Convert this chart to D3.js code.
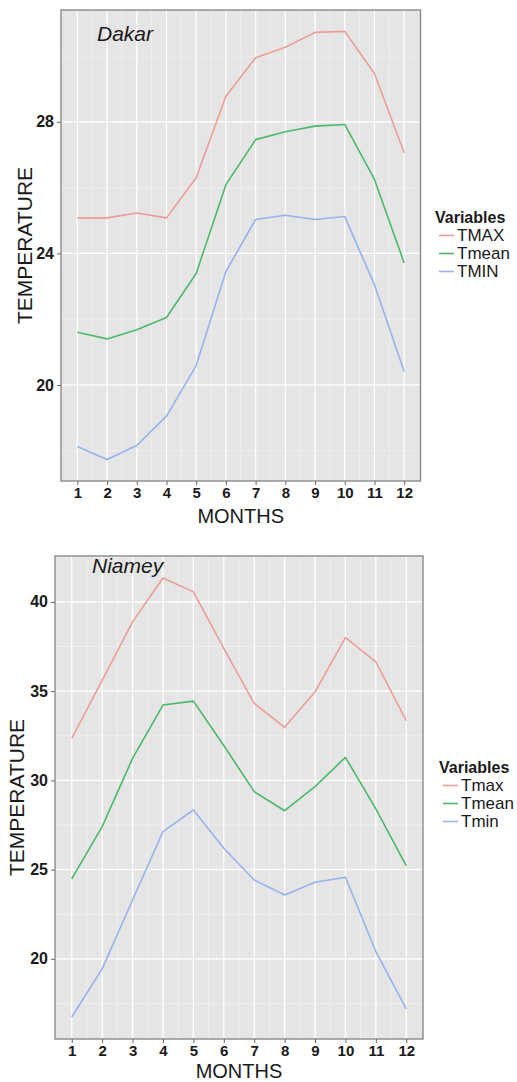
<!DOCTYPE html>
<html>
<head>
<meta charset="utf-8">
<script src="https://cdn.jsdelivr.net/npm/d3@7"></script>
<style>
  html, body { margin: 0; padding: 0; background: #ffffff; }
  svg { display: block; }
  text { font-family: "Liberation Sans", Arial, Helvetica, sans-serif; }
</style>
</head>
<body>
<svg id="chart" width="517" height="1082"></svg>
<script>
// ---------- data ----------
const months = [1, 2, 3, 4, 5, 6, 7, 8, 9, 10, 11, 12];

const dakarTmax  = [25.08, 25.08, 25.23, 25.08, 26.30, 28.78, 29.95, 30.27, 30.72, 30.75, 29.47, 27.06];
const dakarTmean = [21.60, 21.40, 21.68, 22.05, 23.39, 26.09, 27.46, 27.70, 27.87, 27.92, 26.25, 23.71];
const dakarTmin  = [18.13, 17.73, 18.16, 19.05, 20.59, 23.45, 25.03, 25.16, 25.03, 25.12, 23.05, 20.41];

const niameyTmax  = [32.35, 35.60, 38.88, 41.34, 40.56, 37.40, 34.31, 32.97, 34.96, 38.00, 36.64, 33.34];
const niameyTmean = [24.48, 27.41, 31.23, 34.22, 34.44, 31.95, 29.37, 28.30, 29.65, 31.29, 28.40, 25.21];
const niameyTmin  = [16.74, 19.44, 23.30, 27.13, 28.34, 26.20, 24.42, 23.58, 24.29, 24.57, 20.41, 17.20];

const dakarYTicks  = [20, 24, 28];
const niameyYTicks = [20, 25, 30, 35, 40];

const dakarLegend  = ["TMAX", "Tmean", "TMIN"];
const niameyLegend = ["Tmax", "Tmean", "Tmin"];

const seriesColors = ["#eb9d98", "#4cb96a", "#97b2ec"];

// ---------- drawing ----------
const svg = d3.select("#chart");

function drawPanel(cfg) {
  const g = svg.append("g");
  const allVals = cfg.series.flat();
  const [mn, mx] = d3.extent(allVals);
  const pad = (mx - mn) * 0.05;
  const x = d3.scaleLinear().domain([0.45, 12.55]).range([cfg.left, cfg.right]);
  const y = d3.scaleLinear().domain([mn - pad, mx + pad]).range([cfg.bottom, cfg.top]);

  // background
  g.append("rect")
    .attr("x", cfg.left).attr("y", cfg.top)
    .attr("width", cfg.right - cfg.left).attr("height", cfg.bottom - cfg.top)
    .attr("fill", "#e5e5e5");

  // minor grid
  const yMinor = [];
  const step = cfg.yTicks[1] - cfg.yTicks[0];
  for (let v = cfg.yTicks[0] - step / 2; v <= y.domain()[1]; v += step) {
    if (v >= y.domain()[0]) yMinor.push(v);
  }
  g.selectAll(".ymin").data(yMinor).enter().append("line")
    .attr("x1", cfg.left).attr("x2", cfg.right)
    .attr("y1", d => y(d)).attr("y2", d => y(d))
    .attr("stroke", "#f2f2f2").attr("stroke-width", 0.7);
  const xMinor = months.slice(0, -1).map(m => m + 0.5);
  g.selectAll(".xmin").data(xMinor).enter().append("line")
    .attr("y1", cfg.top).attr("y2", cfg.bottom)
    .attr("x1", d => x(d)).attr("x2", d => x(d))
    .attr("stroke", "#f2f2f2").attr("stroke-width", 0.7);

  // major grid
  g.selectAll(".ymaj").data(cfg.yTicks).enter().append("line")
    .attr("x1", cfg.left).attr("x2", cfg.right)
    .attr("y1", d => y(d)).attr("y2", d => y(d))
    .attr("stroke", "#ffffff").attr("stroke-width", 1.3);
  g.selectAll(".xmaj").data(months).enter().append("line")
    .attr("y1", cfg.top).attr("y2", cfg.bottom)
    .attr("x1", d => x(d)).attr("x2", d => x(d))
    .attr("stroke", "#ffffff").attr("stroke-width", 1.3);

  // border
  g.append("rect")
    .attr("x", cfg.left).attr("y", cfg.top)
    .attr("width", cfg.right - cfg.left).attr("height", cfg.bottom - cfg.top)
    .attr("fill", "none").attr("stroke", "#8a8a8a").attr("stroke-width", 1.4);

  // lines
  const line = d3.line().x((d, i) => x(months[i])).y(d => y(d));
  cfg.series.forEach((s, i) => {
    g.append("path").datum(s)
      .attr("d", line)
      .attr("fill", "none")
      .attr("stroke", seriesColors[i])
      .attr("stroke-width", 1.6)
      .attr("stroke-linejoin", "round");
  });

  // axes
  const yAxis = d3.axisLeft(y).tickValues(cfg.yTicks).tickSize(4).tickPadding(3).tickFormat(d3.format("d"));
  const ya = g.append("g").attr("transform", `translate(${cfg.left},0)`).call(yAxis);
  ya.select(".domain").remove();
  ya.selectAll(".tick line").attr("stroke", "#666");
  ya.selectAll(".tick text").attr("font-size", 16).attr("font-weight", "bold").attr("fill", "#1a1a1a")
    .attr("font-family", "'Liberation Sans', Arial, sans-serif");

  const xAxis = d3.axisBottom(x).tickValues(months).tickSize(4).tickPadding(2).tickFormat(d3.format("d"));
  const xa = g.append("g").attr("transform", `translate(0,${cfg.bottom})`).call(xAxis);
  xa.select(".domain").remove();
  xa.selectAll(".tick line").attr("stroke", "#666");
  xa.selectAll(".tick text").attr("font-size", 15).attr("font-weight", "bold").attr("fill", "#1a1a1a")
    .attr("font-family", "'Liberation Sans', Arial, sans-serif");

  // axis titles
  g.append("text")
    .attr("x", (cfg.left + cfg.right) / 2).attr("y", cfg.bottom + cfg.xTitleOffset)
    .attr("text-anchor", "middle").attr("font-size", 20).attr("fill", "#1a1a1a")
    .text("MONTHS");
  g.append("text")
    .attr("transform", `translate(${cfg.yTitleX},${(cfg.top + cfg.bottom) / 2}) rotate(-90)`)
    .attr("text-anchor", "middle").attr("dominant-baseline", "central")
    .attr("font-size", 21).attr("fill", "#1a1a1a")
    .text("TEMPERATURE");

  // panel label
  g.append("text")
    .attr("x", cfg.labelX).attr("y", cfg.labelY)
    .attr("font-size", 21).attr("font-style", "italic").attr("fill", "#1a1a1a")
    .text(cfg.label);

  // legend
  const lg = g.append("g").attr("transform", `translate(${cfg.legX},${cfg.legY})`);
  lg.append("text").attr("x", 0).attr("y", 0)
    .attr("font-size", 16).attr("font-weight", "bold").attr("fill", "#1a1a1a")
    .text("Variables");
  cfg.legend.forEach((name, i) => {
    const yy = 18 * (i + 1);
    lg.append("line")
      .attr("x1", 4).attr("x2", 19)
      .attr("y1", yy - 5.5).attr("y2", yy - 5.5)
      .attr("stroke", seriesColors[i]).attr("stroke-width", 1.6);
    lg.append("text").attr("x", 22).attr("y", yy)
      .attr("font-size", 17).attr("fill", "#1a1a1a")
      .text(name);
  });
}

drawPanel({
  left: 61, right: 420.5, top: 10, bottom: 481,
  series: [dakarTmax, dakarTmean, dakarTmin],
  yTicks: dakarYTicks, legend: dakarLegend,
  label: "Dakar", labelX: 97, labelY: 41,
  yTitleX: 24, legX: 435, legY: 223, xTitleOffset: 42
});

drawPanel({
  left: 55, right: 423, top: 556, bottom: 1039,
  series: [niameyTmax, niameyTmean, niameyTmin],
  yTicks: niameyYTicks, legend: niameyLegend,
  label: "Niamey", labelX: 92, labelY: 573,
  yTitleX: 16, legX: 439, legY: 773, xTitleOffset: 38.5
});
</script>
</body>
</html>
